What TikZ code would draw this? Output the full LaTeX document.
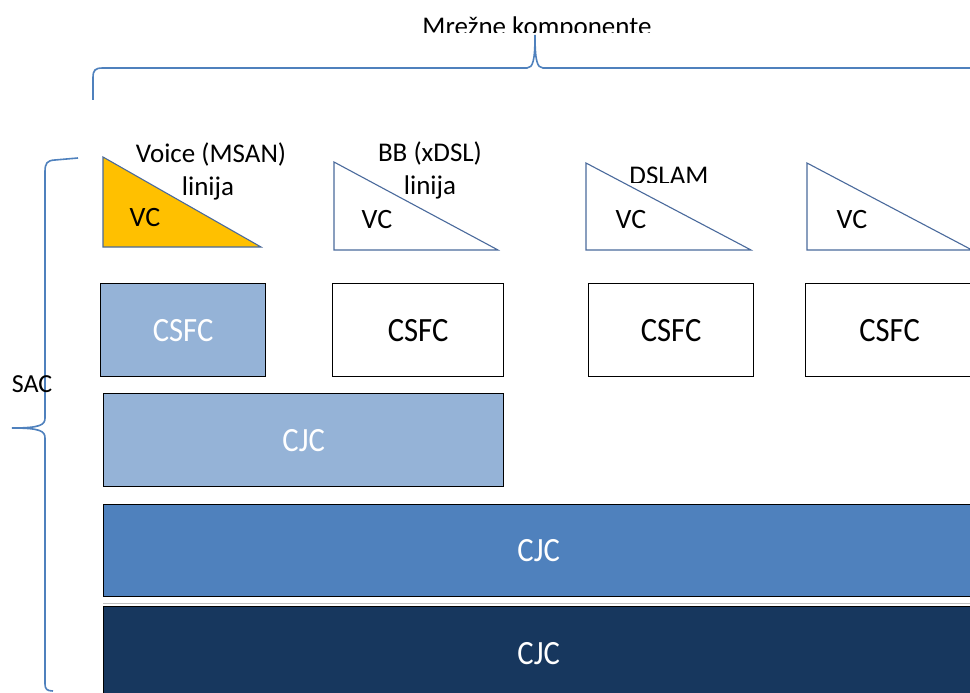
\documentclass[tikz,border=0pt]{standalone}
\usepackage{fontspec}
\setmainfont{Carlito}
\newfontfamily\boxfont[FakeStretch=0.9]{Carlito}
\definecolor{bracecol}{HTML}{4F81BD}
\definecolor{tricol}{HTML}{4A6A9C}
\definecolor{yel}{HTML}{FFC000}
\definecolor{lblue}{HTML}{95B3D7}
\definecolor{mblue}{HTML}{4F81BD}
\definecolor{dblue}{HTML}{17375E}
\tikzset{
  brace/.style={draw=bracecol, line width=1.6pt},
  tri/.style={draw=tricol, line width=1.1pt},
  lbl/.style={font=\fontsize{27}{30}\selectfont, inner sep=0pt, text=black},
  vc/.style={font=\fontsize{28}{30}\selectfont, inner sep=0pt, anchor=base},
  box/.style={draw=black, line width=1.2pt, anchor=north west, inner sep=0pt,
    font=\boxfont\fontsize{34}{36}\selectfont},
}
\begin{document}
\begin{tikzpicture}[x=1pt,y=-1pt]
\clip (0,0) rectangle (970,693);
\fill[white] (0,0) rectangle (970,693);

% title, clipped at bottom
\begin{scope}
\clip (300,0) rectangle (800,33);
\node[lbl, anchor=base] (title) at (537,36) {Mrežne komponente};
\end{scope}

% top brace
\draw[brace] (93,100) -- (93,78) .. controls (93,70) and (95,68) .. (103,68)
  -- (527,68) .. controls (533,68) and (535,60) .. (535,35)
  .. controls (535,60) and (537,68) .. (543,68) -- (980,68);

% left brace
\draw[brace] (78,158) -- (55,160) .. controls (47,160.5) and (45,163) .. (45,172)
  -- (45,418) .. controls (45,425) and (40,428) .. (12,428)
  .. controls (40,428) and (45,431) .. (45,438)
  -- (45,684) .. controls (45,689) and (47,691) .. (53,691);
\node[lbl, font=\fontsize{26}{28}\selectfont, anchor=base] (sac) at (32,392) {SAC};

% labels above triangles
\node[lbl, anchor=base] (voice1) at (211,162) {Voice (MSAN)};
\node[lbl, anchor=base] (voice2) at (208,195) {linija};
\node[lbl, anchor=base] (bb1) at (430,161) {BB (xDSL)};
\node[lbl, anchor=base] (bb2) at (430,194) {linija};
\begin{scope}
\clip (600,140) rectangle (740,182);
\node[lbl, anchor=base] (dslam) at (669,184.5) {DSLAM};
\end{scope}

% triangles
\filldraw[tri, fill=yel] (103,157) -- (103,247) -- (261,247) -- cycle;
\filldraw[tri, fill=white] (334,162) -- (334,250) -- (498,250) -- cycle;
\filldraw[tri, fill=white] (586,163) -- (586,250) -- (751,250) -- cycle;
\filldraw[tri, fill=white] (807,163) -- (807,250) -- (972,250) -- cycle;
\node[vc] (vc1) at (145,226) {VC};
\node[vc] (vc2) at (377,228) {VC};
\node[vc] (vc3) at (631,228) {VC};
\node[vc] (vc4) at (852,228) {VC};

% CSFC boxes
\node[box, fill=lblue, text=white, minimum width=165pt, minimum height=93pt] (csfc1) at (100,283) {CSFC};
\node[box, fill=white, text=black, minimum width=171pt, minimum height=93pt] (csfc2) at (332,283) {CSFC};
\node[box, fill=white, text=black, minimum width=165pt, minimum height=93pt] (csfc3) at (588,283) {CSFC};
\node[box, fill=white, text=black, minimum width=168pt, minimum height=93pt] (csfc4) at (805,283) {CSFC};

% CJC bars
\node[box, fill=lblue, text=white, minimum width=400pt, minimum height=93pt] (cjc1) at (103,393) {CJC};
\node[box, fill=mblue, text=white, minimum width=870pt, minimum height=92pt] (cjc2) at (103,504) {CJC};
\draw[gray!50, line width=1pt] (103,603) -- (975,603);
\node[box, fill=dblue, text=white, minimum width=870pt, minimum height=94pt] (cjc3) at (103,606) {CJC};
\end{tikzpicture}
\end{document}
